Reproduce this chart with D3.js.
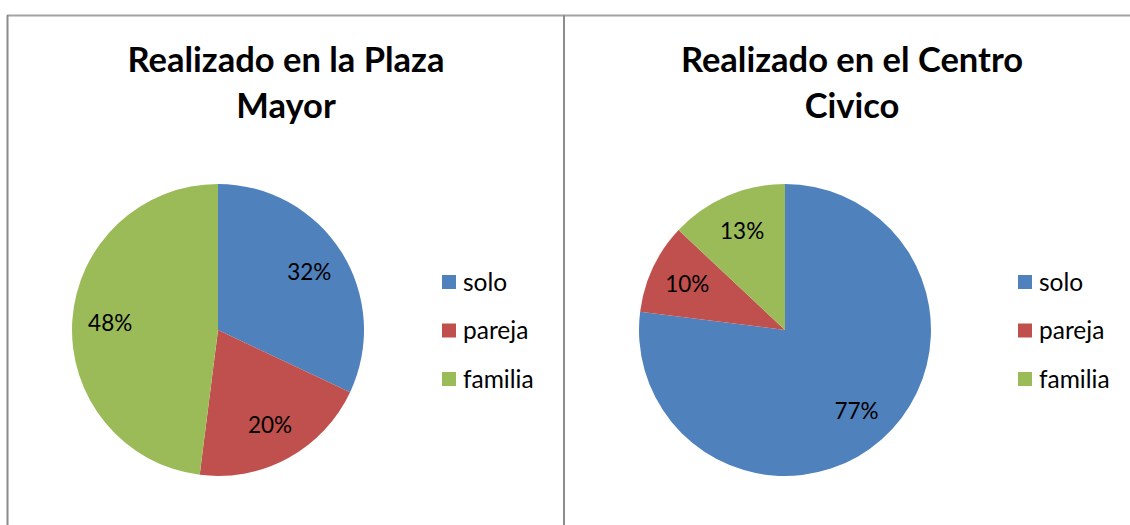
<!DOCTYPE html>
<html>
<head>
<meta charset="utf-8">
<script src="https://cdn.jsdelivr.net/npm/d3@7"></script>
<style>
  body { margin: 0; background: #fff; }
  svg { display: block; font-family: Lato, "Open Sans", sans-serif; }
</style>
</head>
<body>
<div id="chart"></div>
<script>
// data
var categories = ["solo", "pareja", "familia"];
var plazaValues = [32, 20, 48];
var civicoValues = [77, 10, 13];
var titles = [
    ["Realizado en la Plaza", "Mayor"],
    ["Realizado en el Centro", "Civico"]
];
var colors = ["#4F81BD", "#C0504D", "#9BBB59"];

var width = 1130, height = 525;

var svg = d3.select("#chart").append("svg")
    .attr("width", width)
    .attr("height", height);

// frame lines
svg.append("line").attr("x1", 7).attr("x2", width).attr("y1", 15.5).attr("y2", 15.5)
    .attr("stroke", "#a3a3a3").attr("stroke-width", 2);
svg.append("line").attr("x1", 7.5).attr("x2", 7.5).attr("y1", 15).attr("y2", height)
    .attr("stroke", "#8c8c8c").attr("stroke-width", 2);
svg.append("line").attr("x1", 564).attr("x2", 564).attr("y1", 15).attr("y2", height)
    .attr("stroke", "#8c8c8c").attr("stroke-width", 2);

var color = d3.scaleOrdinal().domain(categories).range(colors);

var panels = [
    {values: plazaValues, title: titles[0], cx: 218, cy: 330, titleX: 286, legendX: 442},
    {values: civicoValues, title: titles[1], cx: 785, cy: 330, titleX: 852, legendX: 1018}
];

var radius = 146;
var pie = d3.pie().sort(null).value(function(d) { return d.value; });
var arc = d3.arc().innerRadius(0).outerRadius(radius);
var labelArc = d3.arc().innerRadius(radius * 0.74).outerRadius(radius * 0.74);

panels.forEach(function(p) {
    var rows = categories.map(function(c, i) { return {name: c, value: p.values[i]}; });
    var total = d3.sum(p.values);

    // title
    var t = svg.append("text")
        .attr("x", p.titleX)
        .attr("y", 72)
        .attr("text-anchor", "middle")
        .attr("font-size", 34.5)
        .attr("font-weight", "bold")
        .attr("fill", "#000");
    p.title.forEach(function(line, i) {
        t.append("tspan").attr("x", p.titleX).attr("dy", i === 0 ? 0 : 46).text(line);
    });

    var g = svg.append("g").attr("transform", "translate(" + p.cx + "," + p.cy + ")");
    var arcs = pie(rows);

    g.selectAll("path")
        .data(arcs)
        .join("path")
        .attr("d", arc)
        .attr("fill", function(d) { return color(d.data.name); });

    g.selectAll("text")
        .data(arcs)
        .join("text")
        .attr("transform", function(d) { return "translate(" + labelArc.centroid(d) + ")"; })
        .attr("text-anchor", "middle")
        .attr("dy", "0.35em")
        .attr("font-size", 22.5)
        .attr("fill", "#000")
        .text(function(d) { return Math.round(d.data.value / total * 100) + "%"; });

    // legend
    var legend = svg.append("g")
        .selectAll("g")
        .data(categories)
        .join("g")
        .attr("transform", function(d, i) { return "translate(" + p.legendX + "," + (282 + i * 48.5) + ")"; });

    legend.append("rect")
        .attr("x", 0).attr("y", -7)
        .attr("width", 14).attr("height", 14)
        .attr("fill", function(d) { return color(d); });

    legend.append("text")
        .attr("x", 21)
        .attr("dy", "0.35em")
        .attr("font-size", 24.5)
        .attr("fill", "#000")
        .text(function(d) { return d; });
});
</script>
</body>
</html>
